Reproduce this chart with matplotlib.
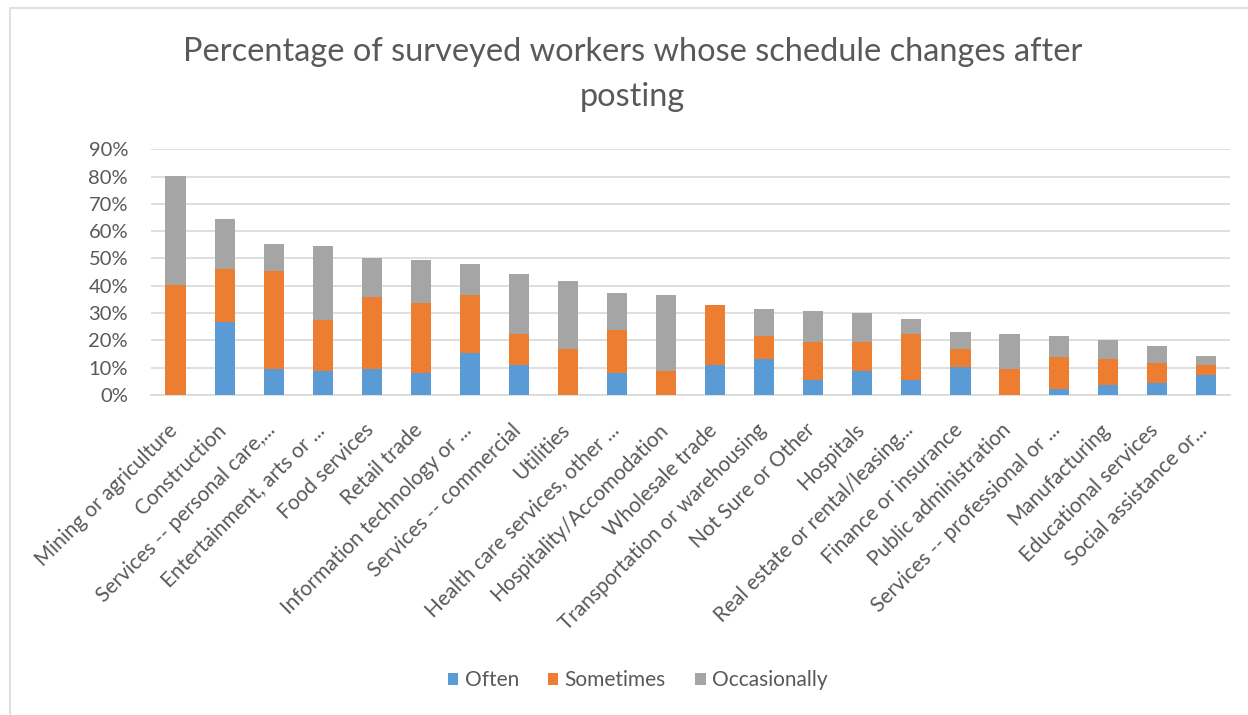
import matplotlib
matplotlib.use("Agg")
import matplotlib.pyplot as plt
from matplotlib.ticker import PercentFormatter
from matplotlib.patches import Rectangle
from matplotlib.transforms import ScaledTranslation
import numpy as np

plt.rcParams['font.family'] = ['Lato', 'DejaVu Sans']

industries = [
    "Mining or agriculture", "Construction", "Services -- personal care,...",
    "Entertainment, arts or ...", "Food services", "Retail trade",
    "Information technology or ...", "Services -- commercial", "Utilities",
    "Health care services, other ...", "Hospitality/Accomodation",
    "Wholesale trade", "Transportation or warehousing", "Not Sure or Other",
    "Hospitals", "Real estate or rental/leasing...", "Finance or insurance",
    "Public administration", "Services -- professional or ...",
    "Manufacturing", "Educational services", "Social assistance or...",
]
often = [0.0, 26.6, 9.4, 8.8, 9.4, 8.1, 15.3, 10.9, 0.0, 8.1, 0.0,
         10.9, 13.1, 5.3, 8.8, 5.3, 10.1, 0.0, 2.3, 3.7, 4.4, 7.3]
sometimes = [40.2, 19.4, 35.9, 18.6, 26.5, 25.7, 21.2, 11.4, 16.7, 15.7, 8.8,
             22.2, 8.5, 14.2, 10.7, 17.0, 6.6, 9.5, 11.5, 9.4, 7.2, 3.6]
occasionally = [40.0, 18.5, 9.9, 27.1, 14.3, 15.8, 11.5, 22.1, 24.9, 13.4, 27.7,
                0.0, 9.9, 11.4, 10.7, 5.7, 6.3, 12.8, 7.7, 7.0, 6.3, 3.5]
series_names = ["Often", "Sometimes", "Occasionally"]
yticks = [0, 10, 20, 30, 40, 50, 60, 70, 80, 90]

colors = ["#5B9BD5", "#ED7D31", "#A5A5A5"]
text_color = "#595959"

fig = plt.figure(figsize=(12.48, 7.15), dpi=100)
ax = fig.add_axes([0.121, 0.4476, 0.8648, 0.3436])

x = np.arange(len(industries))
o = np.array(often)
s = np.array(sometimes)
c = np.array(occasionally)
w = 0.41
ax.bar(x, o, w, color=colors[0], label=series_names[0], zorder=3)
ax.bar(x, s, w, bottom=o, color=colors[1], label=series_names[1], zorder=3)
ax.bar(x, c, w, bottom=o + s, color=colors[2], label=series_names[2], zorder=3)

ax.set_xlim(-0.5, len(industries) - 0.5)
ax.set_ylim(0, 90)
ax.set_yticks(yticks)
ax.yaxis.set_major_formatter(PercentFormatter(decimals=0))
ax.grid(axis="y", color="#D9D9D9", linewidth=1.2, zorder=0)
for side in ["top", "right", "left"]:
    ax.spines[side].set_visible(False)
ax.spines["bottom"].set_color("#D9D9D9")
ax.spines["bottom"].set_linewidth(1.2)
ax.tick_params(axis="both", length=0, colors=text_color, labelsize=14.5)
ax.tick_params(axis="y", pad=16.5)

ax.set_xticks(x)
ax.set_xticklabels(industries, rotation=45, ha="right", va="top",
                   rotation_mode="anchor", color=text_color, fontsize=15)
ax.tick_params(axis="x", pad=10)
shift = ScaledTranslation(-6 / 72, -8 / 72, fig.dpi_scale_trans)
for lbl in ax.get_xticklabels():
    lbl.set_transform(lbl.get_transform() + shift)

fig.text(0.507, 0.927, "Percentage of surveyed workers whose schedule changes after",
         ha="center", va="center", fontsize=23.4, color=text_color)
fig.text(0.507, 0.864, "posting", ha="center", va="center", fontsize=23.4,
         color=text_color)

leg = fig.legend(loc="center", bbox_to_anchor=(0.511, 0.049), ncol=3,
                 frameon=False, fontsize=15, handlelength=0.5,
                 handleheight=0.5, handletextpad=0.3, columnspacing=1.4)
for t in leg.get_texts():
    t.set_color(text_color)

# chart frame
fig.patches.append(Rectangle((10 / 1248, -0.01), 1.2, 1 - 8 / 715 + 0.01,
                             transform=fig.transFigure, fill=False,
                             edgecolor="#D9D9D9", linewidth=1.2))

fig.savefig("out.png", dpi=100)
